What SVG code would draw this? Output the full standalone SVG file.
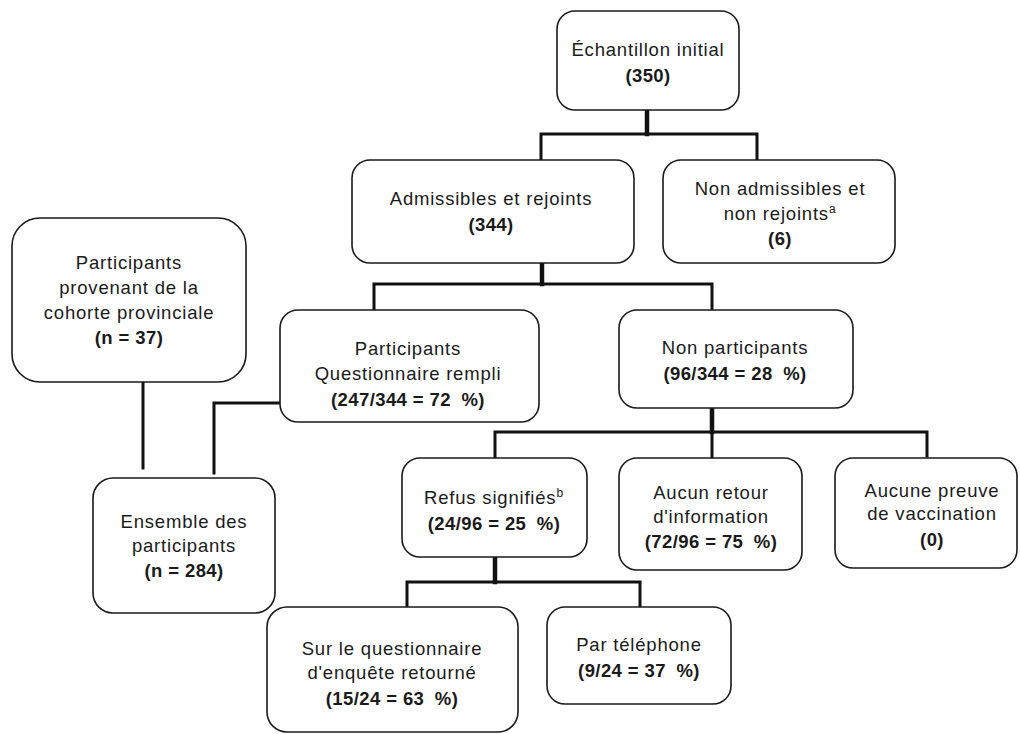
<svg xmlns="http://www.w3.org/2000/svg" width="1020" height="734" viewBox="0 0 1020 734">
<style>
.box{fill:#fff;stroke:#1a1a1a;stroke-width:1.6}
.t{font-family:"Liberation Sans",Arial,sans-serif;font-size:18.5px;letter-spacing:0.8px;fill:#1a1a1a;text-anchor:middle}
.b{font-weight:bold;letter-spacing:0.4px}
.sup{font-size:12px}
.c{fill:none;stroke:#111;stroke-width:3;stroke-linecap:square;stroke-linejoin:miter}
.k{stroke-width:4.5}
</style>
<rect width="1020" height="734" fill="#fff"/>
<g id="connectors">
<path class="c k" d="M647 111 V134"/>
<path class="c" d="M541 159 V134 H757 V159"/>
<path class="c k" d="M542 264 V284"/>
<path class="c" d="M374 309 V284 H712 V309"/>
<path class="c k" d="M712 409 V432"/>
<path class="c" d="M495 457 V432 H927 V456"/>
<path class="c" d="M712 432 V457"/>
<path class="c k" d="M495 558 V582"/>
<path class="c" d="M407 606 V582 H640 V606"/>
<path class="c" d="M143 383 V468"/>
<path class="c" d="M280 403 H214 V473"/>
</g>
<g id="n1"><rect class="box" x="557" y="11" width="182" height="99" rx="18"/>
<text class="t" x="648" y="56">Échantillon initial</text><text class="t b" x="648" y="82">(350)</text></g>
<g id="n2"><rect class="box" x="352" y="160" width="282" height="103" rx="18"/>
<text class="t" x="491" y="205">Admissibles et rejoints</text><text class="t b" x="491" y="231">(344)</text></g>
<g id="n3"><rect class="box" x="663" y="160" width="232" height="103" rx="18"/>
<text class="t" x="780" y="195">Non admissibles et</text><text class="t" x="780" y="220">non rejoints<tspan class="sup" dy="-7">a</tspan></text><text class="t b" x="780" y="245">(6)</text></g>
<g id="n4"><rect class="box" x="12" y="218" width="234" height="164" rx="28"/>
<text class="t" x="129" y="269">Participants</text><text class="t" x="129" y="294">provenant de la</text><text class="t" x="129" y="319">cohorte provinciale</text><text class="t b" x="129" y="344">(n = 37)</text></g>
<g id="n5"><rect class="box" x="280" y="310" width="259" height="112" rx="18"/>
<text class="t" x="408" y="355">Participants</text><text class="t" x="408" y="380">Questionnaire rempli</text><text class="t b" x="408" y="406">(247/344 = 72 <tspan dx="5">%)</tspan></text></g>
<g id="n6"><rect class="box" x="619" y="310" width="234" height="98" rx="18"/>
<text class="t" x="735" y="354">Non participants</text><text class="t b" x="735" y="380">(96/344 = 28 <tspan dx="5">%)</tspan></text></g>
<g id="n7"><rect class="box" x="93" y="478" width="182" height="135" rx="20"/>
<text class="t" x="184" y="528">Ensemble des</text><text class="t" x="184" y="552">participants</text><text class="t b" x="184" y="577">(n = 284)</text></g>
<g id="n8"><rect class="box" x="402" y="458" width="185" height="99" rx="18"/>
<text class="t" x="494" y="504">Refus signifiés<tspan class="sup" dy="-7">b</tspan></text><text class="t b" x="494" y="530">(24/96 = 25 <tspan dx="5">%)</tspan></text></g>
<g id="n9"><rect class="box" x="619" y="458" width="183" height="112" rx="18"/>
<text class="t" x="711" y="499">Aucun retour</text><text class="t" x="711" y="523">d'information</text><text class="t b" x="711" y="548">(72/96 = 75 <tspan dx="5">%)</tspan></text></g>
<g id="n10"><rect class="box" x="835" y="458" width="182" height="110" rx="18"/>
<text class="t" x="932" y="497">Aucune preuve</text><text class="t" x="932" y="520">de vaccination</text><text class="t b" x="932" y="546">(0)</text></g>
<g id="n11"><rect class="box" x="267" y="607" width="251" height="125" rx="20"/>
<text class="t" x="392" y="655">Sur le questionnaire</text><text class="t" x="392" y="679">d'enquête retourné</text><text class="t b" x="392" y="705">(15/24 = 63 <tspan dx="5">%)</tspan></text></g>
<g id="n12"><rect class="box" x="547" y="607" width="184" height="97" rx="18"/>
<text class="t" x="639" y="651">Par téléphone</text><text class="t b" x="639" y="677">(9/24 = 37 <tspan dx="5">%)</tspan></text></g>
</svg>
